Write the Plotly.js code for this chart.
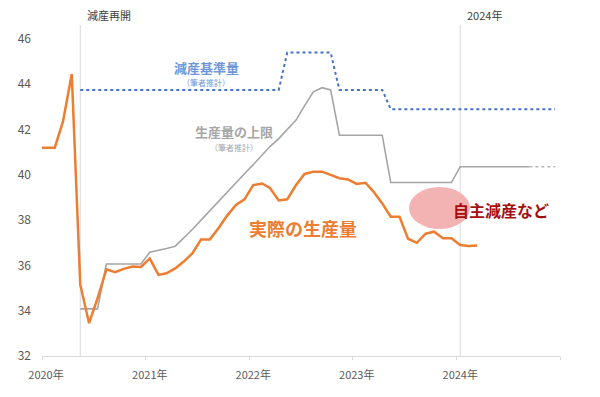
<!DOCTYPE html>
<html>
<head>
<meta charset="utf-8">
<script src="https://cdn.plot.ly/plotly-3.0.1.min.js"></script>
<style>html,body{margin:0;padding:0;background:#fff;}#chart{width:600px;height:397px;}</style>
</head>
<body>
<div id="chart"></div>
<script>
// ---- data (million barrels/day, monthly) ----
const actualStart = '2019-12';
const actualValues = [41.2,
  41.2, 41.2, 42.35, 44.45, 35.15, 33.45, 34.55, 35.83, 35.70, 35.85, 35.95, 35.93,
  36.3, 35.58, 35.65, 35.87, 36.17, 36.54, 37.15, 37.15, 37.65, 38.2, 38.67, 38.92,
  39.55, 39.62, 39.42, 38.87, 38.92, 39.55, 40.04, 40.14, 40.14, 40.0, 39.85, 39.8,
  39.6, 39.65, 39.26, 38.74, 38.15, 38.15, 37.18, 37.0, 37.4, 37.49, 37.2, 37.2,
  36.9, 36.86, 36.88];

const limitStart = '2020-05';
const limitValues = [34.08, 34.08, 34.08, 36.06, 36.06, 36.06, 36.06, 36.06,
  36.58, 36.66, 36.75, 36.85, 37.2, 37.6, 38.0, 38.42, 38.85, 39.25, 39.65, 40.05,
  40.45, 40.85, 41.25, 41.6, 42.0, 42.42, 43.05, 43.67, 43.85, 43.75, 41.75, 41.75,
  41.75, 41.75, 41.75, 41.75, 39.66, 39.66, 39.66, 39.66, 39.66, 39.66, 39.66, 39.66,
  40.36, 40.36, 40.36, 40.36, 40.36, 40.36, 40.36, 40.36, 40.36];

const limitExtStart = '2024-09';
const limitExtValues = [40.36, 40.36, 40.36, 40.36];

const baselineStart = '2020-05';
const baselineValues = [43.75, 43.75, 43.75, 43.75, 43.75, 43.75, 43.75, 43.75,
  43.75, 43.75, 43.75, 43.75, 43.75, 43.75, 43.75, 43.75, 43.75, 43.75, 43.75, 43.75,
  43.75, 43.75, 43.75, 43.75, 45.4, 45.4, 45.4, 45.4, 45.4, 45.4, 43.75, 43.75,
  43.75, 43.75, 43.75, 43.75, 42.9, 42.9, 42.9, 42.9, 42.9, 42.9, 42.9, 42.9,
  42.9, 42.9, 42.9, 42.9, 42.9, 42.9, 42.9, 42.9, 42.9, 42.9, 42.9, 42.9];

const yearTicks = ['2020-01-01', '2021-01-01', '2022-01-01', '2023-01-01', '2024-01-01', '2025-01-01'];
const yearLabels = ['2020年', '2021年', '2022年', '2023年', '2024年', ''];
const yTicks = [32, 34, 36, 38, 40, 42, 44, 46];

const eventDates = ['2020-05-15', '2024-01-15'];
const eventLabels = ['減産再開', '2024年'];

// monthly x positions (mid-month)
function monthsFrom(start, n) {
  let [y, m] = start.split('-').map(Number);
  const out = [];
  for (let i = 0; i < n; i++) {
    out.push(y + '-' + String(m).padStart(2, '0') + '-15');
    m++; if (m > 12) { m = 1; y++; }
  }
  return out;
}

const FONT = '"Noto Sans CJK JP", "Noto Sans", sans-serif';

const traces = [
  {x: monthsFrom(baselineStart, baselineValues.length), y: baselineValues, mode: 'lines',
   line: {color: '#4472C4', width: 2, dash: 'dot'}, hoverinfo: 'skip'},
  {x: monthsFrom(limitStart, limitValues.length), y: limitValues, mode: 'lines',
   line: {color: '#A5A5A5', width: 1.6}, hoverinfo: 'skip'},
  {x: monthsFrom(limitExtStart, limitExtValues.length), y: limitExtValues, mode: 'lines',
   line: {color: '#B8B8B8', width: 1.4, dash: 'dot'}, hoverinfo: 'skip'},
  {x: monthsFrom(actualStart, actualValues.length), y: actualValues, mode: 'lines',
   line: {color: '#ED7D31', width: 2.5}, hoverinfo: 'skip'}
];

// pixel helpers for label placement (plot area 42..560 x 39..356)
const PX = p => (p - 42) / 518;
const PY = p => (356 - p) / 317;

const shapes = eventDates.map(d => ({
  type: 'line', xref: 'x', yref: 'paper', x0: d, x1: d, y0: 0, y1: PY(25),
  line: {color: '#D9D9D9', width: 1}, layer: 'below'
}));
shapes.push({type: 'circle', xref: 'paper', yref: 'paper',
  x0: PX(409), x1: PX(470), y0: PY(229), y1: PY(187),
  fillcolor: '#F4B3B3', line: {width: 0}, layer: 'below'});

function ann(text, px, py, size, color, extra) {
  return Object.assign({text: text, xref: 'paper', yref: 'paper', x: PX(px), y: PY(py),
    showarrow: false, font: {family: FONT, size: size, color: color},
    xanchor: 'center', yanchor: 'middle'}, extra || {});
}

const annotations = [
  ann('<b>減産基準量</b>', 206, 67, 13, '#6F96DA'),
  ann('（筆者推計）', 206, 82, 8, '#6F96DA'),
  ann('<b>生産量の上限</b>', 234, 131, 13, '#A6A6A6'),
  ann('（筆者推計）', 234, 147, 8, '#A6A6A6'),
  ann('<b>実際の生産量</b>', 303, 228, 18, '#ED7D31'),
  ann('<b>自主減産など</b>', 501, 210, 16, '#A50F0F'),
  ann(eventLabels[0], 85, 15, 11, '#404040', {xanchor: 'left'}),
  ann(eventLabels[1], 465, 15, 11, '#404040', {xanchor: 'left'})
];

const layout = {
  width: 600, height: 397,
  margin: {l: 42, r: 40, t: 39, b: 41, pad: 0},
  paper_bgcolor: '#FFFFFF', plot_bgcolor: '#FFFFFF',
  showlegend: false,
  font: {family: FONT, color: '#595959'},
  xaxis: {
    type: 'date', range: ['2020-01-01', '2025-01-01'],
    tickmode: 'array', tickvals: yearTicks, ticktext: yearLabels,
    ticks: 'outside', ticklen: 3, tickcolor: '#D9D9D9',
    showline: true, linecolor: '#D9D9D9', linewidth: 1,
    showgrid: false, zeroline: false,
    tickfont: {family: FONT, size: 11, color: '#595959'},
    ticklabelshift: 4, ticklabelstandoff: 6
  },
  yaxis: {
    range: [32, 46], tickmode: 'array', tickvals: yTicks,
    showgrid: false, zeroline: false, showline: false, ticks: '',
    tickfont: {family: FONT, size: 12, color: '#595959'},
    ticklabelstandoff: 10
  },
  shapes: shapes,
  annotations: annotations
};

Plotly.newPlot('chart', traces, layout, {staticPlot: true, displayModeBar: false});
</script>
</body>
</html>
